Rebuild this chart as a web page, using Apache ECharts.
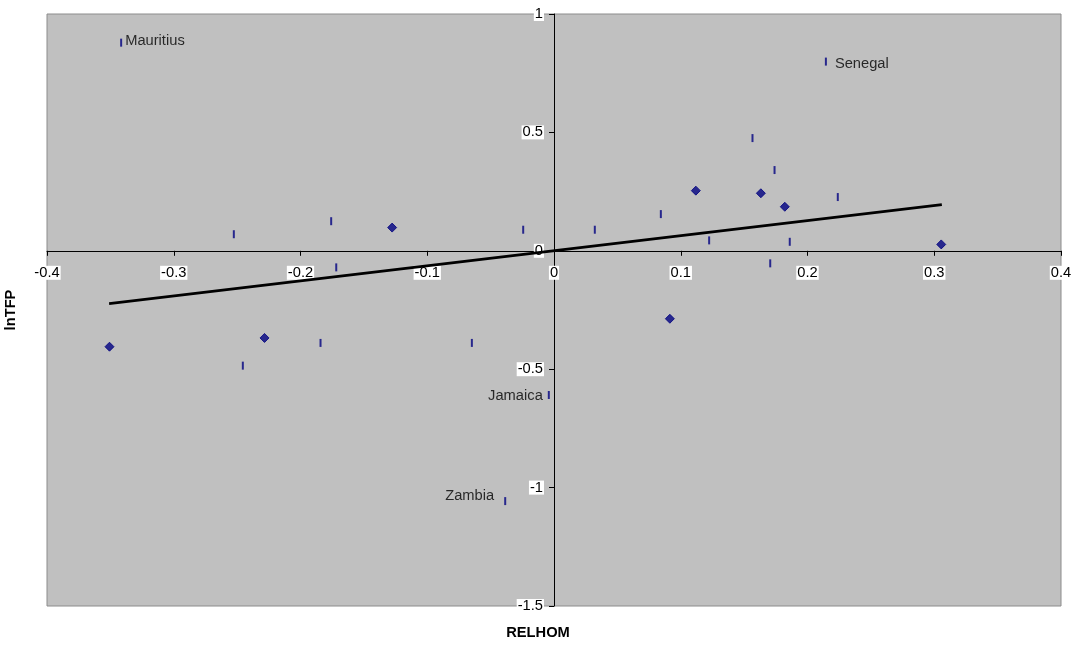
<!DOCTYPE html>
<html>
<head>
<meta charset="utf-8">
<script src="https://cdn.jsdelivr.net/npm/echarts@6/dist/echarts.min.js"></script>
<style>
html,body{margin:0;padding:0;background:#fff;}
#c{width:1076px;height:645px;}
</style>
</head>
<body>
<div id="c"></div>
<script>
// Countries plotted with the vertical-dash marker
const dashX = [-0.3415, -0.2526, -0.1758, -0.1718, -0.2455, -0.1842, -0.0648, -0.0041, -0.0385, -0.0243, 0.0322, 0.0843, 0.1224, 0.1566, 0.1740, 0.2239, 0.1860, 0.1706, 0.2145];
const dashY = [0.879, 0.070, 0.125, -0.070, -0.485, -0.389, -0.389, -0.609, -1.057, 0.089, 0.089, 0.155, 0.044, 0.476, 0.341, 0.227, 0.038, -0.053, 0.799];
const dashNames = ['Mauritius', '', '', '', '', '', '', 'Jamaica', 'Zambia', '', '', '', '', '', '', '', '', '', 'Senegal'];

// Countries plotted with the diamond marker
const diamondX = [-0.3507, -0.2284, -0.1277, 0.1119, 0.0914, 0.1632, 0.1821, 0.3055];
const diamondY = [-0.405, -0.368, 0.098, 0.254, -0.287, 0.243, 0.186, 0.027];

// Fitted line endpoints
const trendX = [-0.351, 0.306];
const trendY = [-0.223, 0.195];

const xTicks = [-0.4, -0.3, -0.2, -0.1, 0, 0.1, 0.2, 0.3, 0.4];
const yTicks = [-1.5, -1, -0.5, 0, 0.5, 1];
const xTitle = 'RELHOM';
const yTitle = 'lnTFP';

const FONT = 'Liberation Sans, Arial, sans-serif';
const W = 1076, H = 645;
const G = {left: 47, top: 14, right: 15, bottom: 39};
const gridW = W - G.left - G.right, gridH = H - G.top - G.bottom;
const xMin = xTicks[0], xMax = xTicks[xTicks.length - 1];
const yMin = yTicks[0], yMax = yTicks[yTicks.length - 1];
// move each axis so it crosses the other at zero
const yAxisOffset = -((0 - xMin) / (xMax - xMin)) * gridW;
const xAxisOffset = -((0 - yMin) / (yMax - yMin)) * gridH;

const labelPlacement = {
  'Mauritius': {position: 'right', offset: [-2, -2]},
  'Senegal': {position: 'right', offset: [3, 2]},
  'Jamaica': {position: 'left', offset: [0, 1]},
  'Zambia': {position: 'left', offset: [-5, -5]}
};

const dashData = dashX.map((x, i) => {
  const d = {value: [x, dashY[i]]};
  const n = dashNames[i];
  if (n) {
    const p = labelPlacement[n];
    d.label = {show: true, formatter: n, position: p.position, offset: p.offset,
      color: '#000', fontFamily: FONT, fontSize: 14.7};
  }
  return d;
});
const diamondData = diamondX.map((x, i) => [x, diamondY[i]]);
const trendData = trendX.map((x, i) => [x, trendY[i]]);

const fmt = v => String(Math.round(v * 10) / 10);

const chart = echarts.init(document.getElementById('c'), null, {renderer: 'canvas'});
chart.setOption({
  animation: false,
  backgroundColor: '#fff',
  grid: {left: G.left, top: G.top, right: G.right, bottom: G.bottom, show: true,
    backgroundColor: '#c0c0c0', borderColor: '#8c8c8c', borderWidth: 1},
  xAxis: {
    type: 'value', min: xMin, max: xMax, interval: 0.1, position: 'bottom', offset: xAxisOffset,
    axisLine: {show: true, onZero: false, lineStyle: {color: '#000', width: 1}},
    axisTick: {show: true, inside: false, length: 5, lineStyle: {color: '#000'}},
    splitLine: {show: false},
    axisLabel: {color: '#000', fontFamily: FONT, fontSize: 14.7, margin: 15,
      backgroundColor: '#fff', padding: [0, 1], lineHeight: 14, formatter: fmt}
  },
  yAxis: {
    type: 'value', min: yMin, max: yMax, interval: 0.5, position: 'left', offset: yAxisOffset,
    axisLine: {show: true, onZero: false, lineStyle: {color: '#000', width: 1}},
    axisTick: {show: true, inside: false, length: 5, lineStyle: {color: '#000'}},
    splitLine: {show: false},
    axisLabel: {color: '#000', fontFamily: FONT, fontSize: 14.7, margin: 10,
      backgroundColor: '#fff', padding: [0, 1], lineHeight: 14, formatter: fmt}
  },
  graphic: [
    {type: 'text', left: 'center', top: 625, style: {text: xTitle, font: 'bold 14.7px ' + FONT, fill: '#000'}},
    {type: 'text', x: 11, y: 310, rotation: Math.PI / 2,
      style: {text: yTitle, font: 'bold 14.7px ' + FONT, fill: '#000', align: 'center', verticalAlign: 'middle'}}
  ],
  series: [
    {type: 'line', data: trendData, symbol: 'none', silent: true,
      lineStyle: {color: '#000', width: 2.6}, z: 3},
    {type: 'scatter', data: diamondData, symbol: 'diamond', symbolSize: [9, 9],
      itemStyle: {color: '#000080', borderColor: '#000080', borderWidth: 1}, z: 4},
    {type: 'scatter', data: dashData, symbol: 'rect', symbolSize: [2, 8],
      itemStyle: {color: '#000080'}, z: 4}
  ]
});
</script>
</body>
</html>
